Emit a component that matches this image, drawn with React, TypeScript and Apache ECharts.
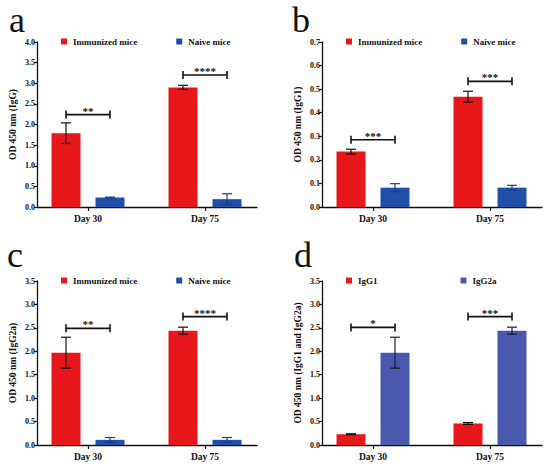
import React, { useEffect, useRef } from 'react';
import * as echarts from 'echarts';

// ---------- data ----------
const categories = ['Day 30', 'Day 75'];

// Panel a – total IgG
const igGImmunized = [1.79, 2.9];
const igGImmunizedErr = [0.25, 0.05];
const igGNaive = [0.23, 0.19];
const igGNaiveErr = [0.01, 0.13];
const igGSig = [2.24, 3.2];
const igGSigLabels = ['**', '****'];

// Panel b – IgG1
const igG1Immunized = [0.235, 0.468];
const igG1ImmunizedErr = [0.01, 0.023];
const igG1Naive = [0.082, 0.082];
const igG1NaiveErr = [0.017, 0.01];
const igG1Sig = [0.285, 0.533];
const igG1SigLabels = ['***', '***'];

// Panel c – IgG2a
const igG2aImmunized = [1.97, 2.44];
const igG2aImmunizedErr = [0.33, 0.075];
const igG2aNaive = [0.11, 0.11];
const igG2aNaiveErr = [0.05, 0.05];
const igG2aSig = [2.49, 2.74];
const igG2aSigLabels = ['**', '****'];

// Panel d – IgG1 vs IgG2a
const subclassIgG1 = [0.23, 0.46];
const subclassIgG1Err = [0.01, 0.02];
const subclassIgG2a = [1.97, 2.44];
const subclassIgG2aErr = [0.33, 0.075];
const subclassSig = [2.51, 2.74];
const subclassSigLabels = ['*', '***'];

// ---------- styling ----------
const FONT = 'Liberation Serif';
const RED = '#e8171c';
const BLUE = '#1f4fa6';
const BLUE2 = '#4858ad';
const BAR_W = 29;
const GAP_PX = 15;
const OFFSET = (BAR_W + GAP_PX) / 2;
const CAP = 5;

type Panel = {
  letter: string;
  lx: number;
  ly: number;
  left: number;
  top: number;
  height: number;
  max: number;
  interval: number;
  yName: string;
  names: [string, string];
  colors: [string, string];
  errColors: [string, string];
  values: [number[], number[]];
  errs: [number[], number[]];
  sig: number[];
  sigLabels: string[];
  legendLeft: number;
  legendGap: number;
};

const panels: Panel[] = [
  {
    letter: 'a', lx: 9, ly: 20, left: 37, top: 42, height: 165, max: 4, interval: 0.5,
    yName: 'OD 450 nm (IgG)', names: ['Immunized mice', 'Naive mice'],
    colors: [RED, BLUE], errColors: ['#111', '#1a3f8c'],
    values: [igGImmunized, igGNaive], errs: [igGImmunizedErr, igGNaiveErr],
    sig: igGSig, sigLabels: igGSigLabels, legendLeft: 61, legendGap: 39,
  },
  {
    letter: 'b', lx: 292, ly: 20, left: 322, top: 42, height: 165, max: 0.7, interval: 0.1,
    yName: 'OD 450 nm (IgG1)', names: ['Immunized mice', 'Naive mice'],
    colors: [RED, BLUE], errColors: ['#111', '#1a3f8c'],
    values: [igG1Immunized, igG1Naive], errs: [igG1ImmunizedErr, igG1NaiveErr],
    sig: igG1Sig, sigLabels: igG1SigLabels, legendLeft: 346, legendGap: 39,
  },
  {
    letter: 'c', lx: 7, ly: 255, left: 37, top: 281, height: 164, max: 3.5, interval: 0.5,
    yName: 'OD 450 nm (IgG2a)', names: ['Immunized mice', 'Naive mice'],
    colors: [RED, BLUE], errColors: ['#111', '#1a3f8c'],
    values: [igG2aImmunized, igG2aNaive], errs: [igG2aImmunizedErr, igG2aNaiveErr],
    sig: igG2aSig, sigLabels: igG2aSigLabels, legendLeft: 61, legendGap: 39,
  },
  {
    letter: 'd', lx: 294, ly: 255, left: 322, top: 281, height: 164, max: 3.5, interval: 0.5,
    yName: 'OD 450 nm (IgG1 and IgG2a)', names: ['IgG1', 'IgG2a'],
    colors: [RED, BLUE2], errColors: ['#111', '#1a1a3a'],
    values: [subclassIgG1, subclassIgG2a], errs: [subclassIgG1Err, subclassIgG2aErr],
    sig: subclassSig, sigLabels: subclassSigLabels, legendLeft: 346, legendGap: 83,
  },
];

function buildOption() {
  const grid: any[] = [];
  const xAxis: any[] = [];
  const yAxis: any[] = [];
  const series: any[] = [];
  const legend: any[] = [];
  const graphic: any[] = [];

  panels.forEach((p, k) => {
    const fi = 2 * k;
    const bi = 2 * k + 1;
    grid.push({ left: p.left, top: p.top, width: 220, height: p.height, containLabel: false });
    grid.push({ left: p.left - 7.5, top: p.top, width: 234, height: p.height, containLabel: false });

    xAxis.push({
      type: 'value', gridIndex: fi, min: 0, max: 1,
      axisLine: { show: true, lineStyle: { color: '#111', width: 1.3 } },
      axisTick: { show: false }, axisLabel: { show: false }, splitLine: { show: false },
    });
    xAxis.push({
      type: 'category', gridIndex: bi, data: categories,
      axisLine: { show: false },
      axisTick: { show: true, alignWithLabel: true, length: 4, lineStyle: { color: '#111', width: 1.2 } },
      axisLabel: { color: '#111', fontFamily: FONT, fontWeight: 'bold', fontSize: 9.5, margin: 7 },
      splitLine: { show: false },
    });
    yAxis.push({
      type: 'value', gridIndex: fi, min: 0, max: p.max, interval: p.interval,
      name: p.yName, nameLocation: 'middle', nameRotate: 90, nameGap: 19,
      nameTextStyle: { color: '#111', fontFamily: FONT, fontWeight: 'bold', fontSize: 9.5 },
      axisLine: { show: true, lineStyle: { color: '#111', width: 1.3 } },
      axisTick: { show: true, length: 3, lineStyle: { color: '#111', width: 1.2 } },
      axisLabel: {
        color: '#111', fontFamily: FONT, fontWeight: 'bold', fontSize: 8, margin: 2,
        formatter: (v: number) => v.toFixed(1),
      },
      splitLine: { show: false },
    });
    yAxis.push({
      type: 'value', gridIndex: bi, min: 0, max: p.max, interval: p.interval, show: false,
      splitLine: { show: false },
    });

    [0, 1].forEach((s) => {
      series.push({
        type: 'bar', name: p.names[s], xAxisIndex: bi, yAxisIndex: bi,
        data: p.values[s], barWidth: BAR_W, barGap: (GAP_PX / BAR_W) * 100 + '%',
        itemStyle: { color: p.colors[s] }, silent: true,
      });
    });

    [0, 1].forEach((s) => {
      const side = s === 0 ? -1 : 1;
      const color = p.errColors[s];
      series.push({
        type: 'custom', name: 'err' + k + s, xAxisIndex: bi, yAxisIndex: bi, z: 5, silent: true,
        data: p.values[s].map((v, i) => [i, v - p.errs[s][i], v + p.errs[s][i]]),
        encode: { x: 0, y: [1, 2] },
        renderItem: (params: any, api: any) => {
          const i = api.value(0);
          const lo = api.coord([i, api.value(1)]);
          const hi = api.coord([i, api.value(2)]);
          const x = lo[0] + side * OFFSET;
          const style = { stroke: color, lineWidth: 1.2, fill: 'none' };
          return {
            type: 'group',
            children: [
              { type: 'line', shape: { x1: x, y1: lo[1], x2: x, y2: hi[1] }, style },
              { type: 'line', shape: { x1: x - CAP, y1: hi[1], x2: x + CAP, y2: hi[1] }, style },
              { type: 'line', shape: { x1: x - CAP, y1: lo[1], x2: x + CAP, y2: lo[1] }, style },
            ],
          };
        },
      });
    });

    series.push({
      type: 'custom', name: 'sig' + k, xAxisIndex: bi, yAxisIndex: bi, z: 5, silent: true,
      data: p.sig.map((y, i) => [i, y]),
      encode: { x: 0, y: 1 },
      renderItem: (params: any, api: any) => {
        const c = api.coord([api.value(0), api.value(1)]);
        const x1 = c[0] - OFFSET;
        const x2 = c[0] + OFFSET;
        const y = c[1];
        const style = { stroke: '#111', lineWidth: 1.6 };
        return {
          type: 'group',
          children: [
            { type: 'line', shape: { x1, y1: y, x2, y2: y }, style },
            { type: 'line', shape: { x1, y1: y - 4, x2: x1, y2: y + 4 }, style },
            { type: 'line', shape: { x1: x2, y1: y - 4, x2, y2: y + 4 }, style },
            {
              type: 'text',
              style: {
                text: p.sigLabels[params.dataIndex], x: c[0], y: y - 4,
                align: 'center', verticalAlign: 'middle',
                fontFamily: FONT, fontWeight: 'bold', fontSize: 11, fill: '#111',
              },
            },
          ],
        };
      },
    });

    legend.push({
      left: p.legendLeft, top: p.top - 5, padding: 0, itemWidth: 6, itemHeight: 6,
      itemGap: p.legendGap, icon: 'rect', selectedMode: false, data: p.names,
      textStyle: { color: '#111', fontFamily: FONT, fontWeight: 'bold', fontSize: 9, padding: [0, 0, 0, 1] },
    });

    graphic.push({
      type: 'text', x: p.lx, y: p.ly, silent: true,
      style: { text: p.letter, fontFamily: FONT, fontSize: 36, fill: '#111', verticalAlign: 'middle' },
    });
  });

  return {
    animation: false,
    backgroundColor: '#ffffff',
    textStyle: { fontFamily: FONT },
    grid, xAxis, yAxis, series, legend, graphic,
  };
}

export default function App() {
  const ref = useRef<HTMLDivElement>(null);
  useEffect(() => {
    if (!ref.current) return;
    const chart = echarts.init(ref.current, null, { renderer: 'svg' });
    chart.setOption(buildOption() as any);
    return () => chart.dispose();
  }, []);
  return (
    <div
      ref={ref}
      style={{ position: 'fixed', left: 0, top: 0, width: 550, height: 466, background: '#fff' }}
    />
  );
}
